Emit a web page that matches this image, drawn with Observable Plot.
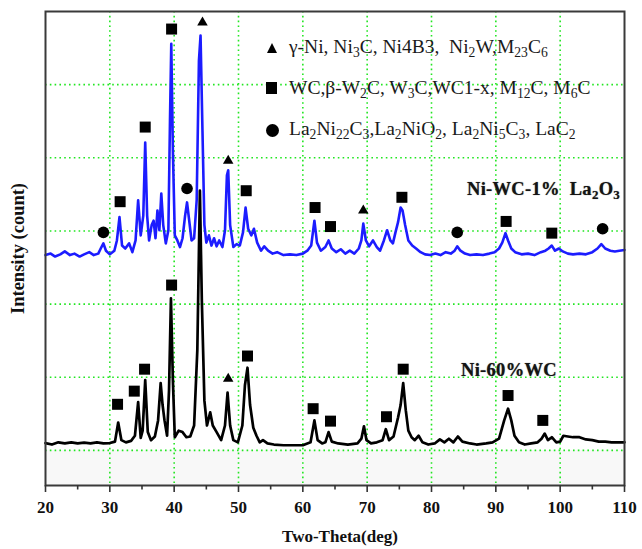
<!DOCTYPE html>
<html>
<head>
<meta charset="utf-8">
<script src="https://cdn.jsdelivr.net/npm/d3@7"></script>
<script src="https://cdn.jsdelivr.net/npm/@observablehq/plot@0.6"></script>
<style>
  html, body { margin: 0; padding: 0; background: #fff; }
  #wrap { position: relative; width: 642px; height: 549px; font-family: "Liberation Serif", "DejaVu Serif", serif; }
  #wrap svg { position: absolute; left: 0; top: 0; }
  .ov { position: absolute; white-space: nowrap; line-height: 17px; }
  .ov sub { font-size: 0.7em; vertical-align: -0.32em; line-height: 0; }
  .leg { font-size: 19.5px; color: #1a1a1a; }
  .lab { font-size: 18.5px; letter-spacing: 0.3px; font-weight: bold; color: #141414; text-shadow: 0 0 1px #666; }
  .sym { position: absolute; }
</style>
</head>
<body>
<div id="wrap"></div>
<script>
// ---- data ----
const xDomain = [20, 110];
const yDomain = [-480, 6000];
const xTicks = [20, 30, 40, 50, 60, 70, 80, 90, 100, 110];
const xMinorTicks = [25, 35, 45, 55, 65, 75, 85, 95, 105];
const xGrid = [30, 40, 50, 60, 70, 80, 90, 100];
const yGrid = [0, 1000, 2000, 3000, 4000, 5000];

// Ni-WC-1% La2O3 (blue, offset trace)
const traceLa = [
  [20,2670],[20.8,2690],[21.5,2650],[22.3,2680],[23,2720],[23.8,2670],[24.5,2690],[25.3,2650],[26,2680],
  [26.8,2710],[27.5,2670],[28.2,2690],[28.7,2780],[29.0,2830],[29.4,2730],[30.0,2680],[30.7,2730],
  [31.1,2870],[31.5,3190],[31.9,2800],[32.4,2760],[33.0,2830],[33.5,2710],[34.0,2870],[34.4,3420],
  [34.8,2940],[35.2,3210],[35.5,4210],[35.8,3210],[36.1,2870],[36.5,3080],[36.8,3140],[37.1,2900],
  [37.4,3280],[37.7,3010],[38.0,3510],[38.3,3080],[38.7,2830],[39.1,3010],[39.35,4510],[39.55,5560],
  [39.8,4100],[40.1,2940],[40.5,2870],[40.9,2780],[41.3,2900],[41.7,3210],[42.0,3390],[42.3,3170],
  [42.7,2870],[43.1,2900],[43.5,3420],[43.85,5330],[44.1,5670],[44.4,4370],[44.7,3080],[45.0,2840],
  [45.4,2940],[45.8,2800],[46.2,2900],[46.6,2790],[47.0,2870],[47.5,2780],[47.9,3010],[48.2,3760],
  [48.4,3830],[48.7,3080],[49.2,2780],[49.7,2820],[50.2,2800],[50.7,2980],[51.1,3320],[51.5,3030],
  [52.0,2940],[52.4,3030],[52.9,2840],[53.5,2730],[54.0,2790],[54.6,2730],[55.3,2690],[56,2710],
  [57,2670],[58,2680],[59,2670],[60,2690],[60.7,2730],[61.3,2800],[61.8,3140],[62.2,2840],[62.8,2730],
  [63.5,2780],[64.0,2870],[64.5,2760],[65.2,2710],[65.9,2750],[66.6,2690],[67.3,2730],[68.0,2690],
  [68.7,2760],[69.1,2870],[69.4,3100],[69.8,2870],[70.3,2790],[70.9,2870],[71.5,2780],[72.0,2730],
  [72.6,2870],[73.1,3010],[73.6,2870],[74.0,2830],[74.4,2980],[74.8,3120],[75.2,3320],[75.5,3280],
  [75.9,3080],[76.4,2870],[77.0,2800],[77.6,2760],[78.3,2710],[79.0,2680],[79.8,2670],[80.6,2690],
  [81.4,2670],[82.2,2710],[83.0,2690],[83.6,2730],[84.0,2790],[84.5,2730],[85.2,2690],[86.0,2670],
  [87,2680],[88,2670],[89,2690],[89.8,2710],[90.5,2760],[91.0,2840],[91.5,2970],[91.9,2870],
  [92.4,2760],[93.0,2710],[94,2680],[95,2690],[96,2670],[97,2710],[97.7,2730],[98.2,2760],[98.7,2800],
  [99.2,2730],[99.8,2760],[100.4,2720],[101.2,2690],[102,2680],[103,2690],[104,2680],[105,2710],
  [105.8,2760],[106.4,2820],[107.0,2760],[107.8,2730],[108.5,2720],[109.2,2730],[110,2740]
];

// Ni-60%WC (black trace)
const traceWC = [
  [20,100],[21,80],[22,110],[23,95],[24,110],[25,95],[26,105],[27,95],[28,110],[29,95],[30,100],
  [30.8,120],[31.3,380],[31.8,140],[32.5,110],[33.3,130],[33.9,200],[34.4,660],[34.8,170],[35.1,270],
  [35.5,960],[35.9,250],[36.4,140],[37.0,190],[37.5,410],[37.9,920],[38.2,620],[38.5,410],[38.9,200],
  [39.2,820],[39.5,2080],[39.8,960],[40.1,180],[40.7,270],[41.3,250],[41.9,180],[42.5,190],[43.1,340],
  [43.6,1370],[44.0,3550],[44.3,2050],[44.7,680],[45.1,340],[45.6,520],[46.0,340],[46.6,250],[47.3,140],
  [47.9,340],[48.3,790],[48.7,340],[49.2,140],[49.9,110],[50.6,340],[51.0,890],[51.4,1130],[51.8,620],
  [52.3,310],[52.8,200],[53.3,110],[53.8,140],[54.5,95],[55.5,80],[57,70],[58.5,70],[60,70],[61.2,110],
  [61.8,410],[62.3,140],[63.0,95],[63.5,110],[64.0,250],[64.5,120],[65.5,95],[67,80],[68.5,95],
  [69.1,160],[69.5,330],[69.9,140],[70.6,95],[71.5,110],[72.4,140],[72.9,290],[73.4,140],[74.1,190],
  [74.8,450],[75.2,620],[75.6,920],[76.0,550],[76.4,270],[76.9,180],[77.4,140],[78.0,200],[78.6,110],
  [79.5,80],[80.5,95],[81.3,150],[82.0,110],[82.7,160],[83.4,110],[84.1,190],[84.8,120],[86,95],
  [87,80],[88.5,95],[89.5,110],[90.5,160],[91.3,410],[91.9,570],[92.4,410],[92.9,200],[93.6,110],
  [94.5,80],[95.5,95],[96.5,110],[97.1,160],[97.6,230],[98.1,140],[98.7,180],[99.4,110],[100.0,120],
  [100.5,200],[101.2,190],[102,180],[103,180],[104,150],[105,140],[106,120],[107,120],[108,110],
  [109,110],[110,110]
];

// phase markers: [two-theta, intensity, symbol]
const markersLa = [
  [29.0,2980,"circle"],[31.6,3400,"square"],[35.5,4420,"square"],[39.6,5760,"square"],
  [44.4,5850,"triangle"],[42.0,3580,"circle"],[48.4,3960,"triangle"],[51.2,3550,"square"],
  [61.9,3320,"square"],[64.3,3060,"square"],[69.4,3280,"triangle"],[75.4,3460,"square"],
  [84.0,2980,"circle"],[91.6,3130,"square"],[98.7,2970,"square"],[106.6,3030,"circle"]
];
const markersWC = [
  [31.2,630,"square"],[33.8,810,"square"],[35.4,1110,"square"],[39.6,2260,"square"],
  [48.4,980,"triangle"],[51.4,1290,"square"],[61.6,570,"square"],[64.3,400,"square"],
  [73.0,460,"square"],[75.6,1110,"square"],[91.9,750,"square"],[97.3,410,"square"]
];

const legendSymbols = ["triangle", "square", "circle"];
const legendLabels = [
  "γ-Ni, Ni<sub>3</sub>C, Ni4B3,&nbsp; Ni<sub>2</sub>W,M<sub>23</sub>C<sub>6</sub>",
  "WC,β-W<sub>2</sub>C, W<sub>3</sub>C,WC1-x, M<sub>12</sub>C, M<sub>6</sub>C",
  "La<sub>2</sub>Ni<sub>22</sub>C<sub>3</sub>,La<sub>2</sub>NiO<sub>2</sub>, La<sub>2</sub>Ni<sub>5</sub>C<sub>3</sub>, LaC<sub>2</sub>"
];
const seriesLabels = ["Ni-WC-1%&nbsp; La<sub>2</sub>O<sub>3</sub>", "Ni-60%WC"];
const xLabel = "Two-Theta(deg)";
const yLabel = "Intensity (count)";

// ---- chart ----
const allMarkers = markersLa.concat(markersWC);
const symR = {square: 6.2, triangle: 3.9, circle: 5.8};
const dotMarks = Object.keys(symR).map(s =>
  Plot.dot(allMarkers.filter(d => d[2] === s), {
    x: d => d[0], y: d => d[1], symbol: s, r: symR[s], fill: "#000", stroke: "none"
  })
);

const chart = Plot.plot({
  width: 642,
  height: 549,
  marginTop: 11,
  marginBottom: 64,
  marginLeft: 45,
  marginRight: 18,
  x: {domain: xDomain},
  y: {domain: yDomain},
  style: {fontFamily: "'Liberation Serif', 'DejaVu Serif', serif", background: "#fff", overflow: "visible"},
  marks: [
    Plot.rect([0], {x1: xDomain[0], x2: xDomain[1], y1: yDomain[0], y2: yGrid[0], fill: "#f8f8f8"}),
    Plot.gridX(xGrid, {stroke: "#22e622", strokeOpacity: 1, strokeWidth: 1.6, strokeDasharray: "1.6,3.2"}),
    Plot.gridY(yGrid, {stroke: "#22e622", strokeOpacity: 1, strokeWidth: 1.6, strokeDasharray: "1.6,3.2"}),
    Plot.line(traceLa, {x: d => d[0], y: d => d[1], stroke: "#1c1cff", strokeWidth: 2.6, strokeLinejoin: "round"}),
    Plot.line(traceWC, {x: d => d[0], y: d => d[1], stroke: "#000", strokeWidth: 2.7, strokeLinejoin: "round"}),
    ...dotMarks,
    Plot.frame({stroke: "#3a3a3a", strokeWidth: 2}),
    Plot.axisX(xTicks, {tickSize: 7, tickPadding: 8, stroke: "#333", strokeWidth: 1.6,
      fontSize: 17, fontWeight: "bold", fill: "#111", label: null}),
    Plot.axisX(xMinorTicks, {tickSize: 4.5, stroke: "#333", strokeWidth: 1.6, tickFormat: () => "", label: null}),
    Plot.axisY([], {label: null}),
    Plot.text([xLabel], {frameAnchor: "bottom", text: d => d, dx: 5, dy: 51, lineAnchor: "middle",
      fontSize: 17, fontWeight: "bold", fill: "#111"}),
    Plot.text([yLabel], {frameAnchor: "left", text: d => d, rotate: -90, dx: -27, textAnchor: "middle",
      lineAnchor: "middle", fontSize: 18.5, fontWeight: "bold", fill: "#111"})
  ]
});

const wrap = document.getElementById("wrap");
wrap.appendChild(chart);

// legend (HTML overlay so that subscripts render)
const legendTop = [38, 79, 120];
const symCenterY = [48, 88, 130];
function symbolEl(s) {
  const el = document.createElement("div");
  el.className = "sym";
  if (s === "triangle") {
    el.style.cssText = "left:267px;top:" + (symCenterY[0] - 5) + "px;width:0;height:0;border-left:5.5px solid transparent;border-right:5.5px solid transparent;border-bottom:10px solid #000;";
  } else if (s === "square") {
    el.style.cssText = "left:266px;top:" + (symCenterY[1] - 6) + "px;width:11px;height:12px;background:#000;";
  } else {
    el.style.cssText = "left:265.5px;top:" + (symCenterY[2] - 6.5) + "px;width:13px;height:13px;border-radius:50%;background:#000;";
  }
  return el;
}
legendSymbols.forEach((s, i) => {
  wrap.appendChild(symbolEl(s));
  const t = document.createElement("div");
  t.className = "ov leg";
  t.style.left = "289px";
  t.style.top = legendTop[i] + "px";
  t.innerHTML = legendLabels[i];
  wrap.appendChild(t);
});

// series labels
const labelPos = [[467, 181], [461, 362]];
seriesLabels.forEach((s, i) => {
  const t = document.createElement("div");
  t.className = "ov lab";
  t.style.left = labelPos[i][0] + "px";
  t.style.top = labelPos[i][1] + "px";
  t.innerHTML = s;
  wrap.appendChild(t);
});
</script>
</body>
</html>
